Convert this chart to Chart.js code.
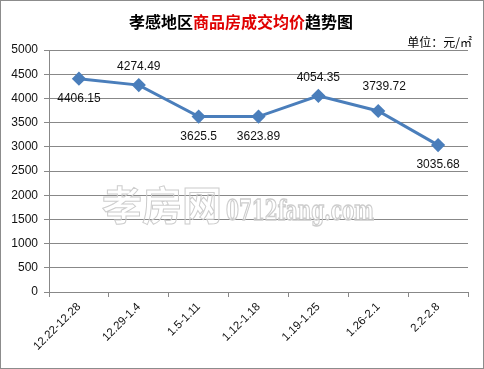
<!DOCTYPE html>
<html><head><meta charset="utf-8">
<script src="https://cdn.jsdelivr.net/npm/chart.js@4/dist/chart.umd.min.js"></script>
<style>
html,body{margin:0;padding:0;background:#fff;}
#wrap{position:relative;width:484px;height:369px;box-sizing:border-box;border:1px solid #8c8c8c;}
canvas{position:absolute;left:-1px;top:-1px;}
</style></head><body>
<div id="wrap"><canvas id="c" width="484" height="369"></canvas></div>
<script>
const categories = ['12.22-12.28','12.29-1.4','1.5-1.11','1.12-1.18','1.19-1.25','1.26-2.1','2.2-2.8'];
const prices = [4406.15, 4274.49, 3625.5, 3623.89, 4054.35, 3739.72, 3035.68];
const labelSide = ['below','above','below','below','above','above','below'];
const titleParts = [['孝感地区','#000'],['商品房成交均价','#e00000'],['趋势图','#000']];
const unitText = '单位：元/㎡';
const watermarkCN = '孝房网';
const watermarkEN = '0712fang.com';

const decor = {
  id:'decor',
  beforeDatasetsDraw(chart){
    const ctx = chart.ctx;
    ctx.save();
    ctx.strokeStyle = '#cdcdcd';
    ctx.lineWidth = 1;
    ctx.textBaseline = 'alphabetic';
    ctx.textAlign = 'left';
    ctx.font = 'bold 40px "Noto Sans CJK SC"';
    ctx.strokeText(watermarkCN, 102, 220);
    const w = ctx.measureText(watermarkCN).width;
    ctx.font = 'bold 27px "DejaVu Serif"';
    const ew = ctx.measureText(watermarkEN).width;
    const sx = 148 / ew;
    ctx.translate(102 + w + 4, 220);
    ctx.scale(sx, 1);
    ctx.lineWidth = 1 / sx;
    ctx.strokeText(watermarkEN, 0, 0);
    ctx.restore();
  },
  afterDraw(chart){
    const ctx = chart.ctx;
    ctx.save();
    ctx.font = 'bold 16px "Noto Sans CJK SC"';
    ctx.textBaseline = 'middle';
    ctx.textAlign = 'left';
    let total = 0;
    titleParts.forEach(p => total += ctx.measureText(p[0]).width);
    let x = 241 - total/2;
    titleParts.forEach(p => { ctx.fillStyle = p[1]; ctx.fillText(p[0], x, 22); x += ctx.measureText(p[0]).width; });
    ctx.font = '12px "Noto Sans CJK SC"';
    ctx.fillStyle = '#000';
    ctx.textAlign = 'right';
    ctx.fillText(unitText, 472, 42);
    // data labels
    const meta = chart.getDatasetMeta(0);
    ctx.font = '12px "Liberation Sans"';
    ctx.fillStyle = '#111';
    ctx.textAlign = 'center';
    meta.data.forEach((pt, i) => {
      const dy = labelSide[i] === 'above' ? -18 : 20;
      ctx.fillText(String(prices[i]), pt.x + (i===5?6:0), pt.y + dy + (i===5?-6:0));
    });
    ctx.restore();
  }
};

new Chart(document.getElementById('c'), {
  type:'line',
  data:{ labels: categories, datasets:[{
    data: prices,
    borderColor:'#4a7ebb', backgroundColor:'#4a7ebb',
    borderWidth:3, pointStyle:'rectRot', pointRadius:5, pointHoverRadius:5,
    tension:0, clip:false
  }]},
  options:{
    responsive:false, animation:false, devicePixelRatio:1,
    layout:{padding:{left:0,right:16,top:50,bottom:0}},
    plugins:{legend:{display:false}, tooltip:{enabled:false}},
    scales:{
      x:{
        offset:true,
        grid:{display:true, drawOnChartArea:false, color:'#888', tickLength:5, offset:true},
        border:{color:'#888', width:1},
        ticks:{minRotation:45, maxRotation:45, color:'#111', font:{family:'Liberation Sans', size:11.5}, padding:3},
        afterFit(s){ s.height = 77; }
      },
      y:{
        min:0, max:5000,
        ticks:{stepSize:500, color:'#111', font:{family:'Liberation Sans', size:12}, padding:6,
               callback:(v)=>String(v)},
        grid:{color:'#888', tickLength:5},
        border:{color:'#888', width:1},
        afterFit(s){ s.width = 49; }
      }
    }
  },
  plugins:[decor]
});
</script>
</body></html>
